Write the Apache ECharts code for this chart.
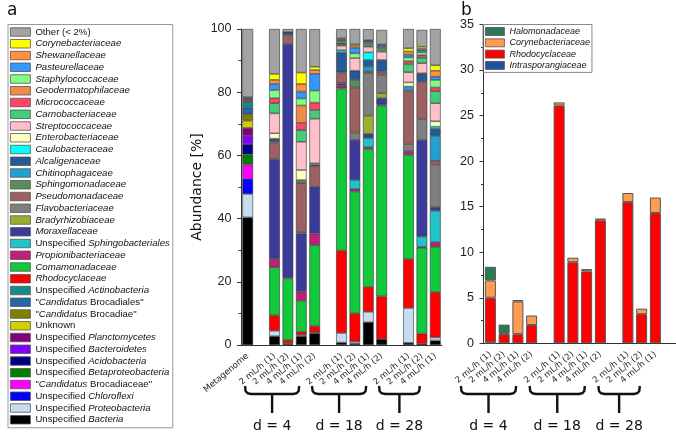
<!DOCTYPE html>
<html>
<head>
<meta charset="utf-8">
<script src="https://cdn.jsdelivr.net/npm/echarts@6/dist/echarts.min.js"></script>
<style>
  html, body { margin: 0; padding: 0; background: #fff; }
  #chart { width: 676px; height: 432px; }
</style>
</head>
<body>
<div id="chart"></div>
<script>
// sample order: Metagenome, d4 (4 reactors), d18 (4), d28 (3)
const dayGroups = [
  { label: "d = 4", samples: ["2 mL/h (1)", "2 mL/h (2)", "4 mL/h (1)", "4 mL/h (2)"] },
  { label: "d = 18", samples: ["2 mL/h (1)", "2 mL/h (2)", "4 mL/h (1)", "4 mL/h (2)"] },
  { label: "d = 28", samples: ["2 mL/h (1)", "2 mL/h (2)", "4 mL/h (1)"] }
]

// panel a, relative abundance [%]
const unspecBacteria = [40.4, 2.8, 0.3, 2.8, 3.7, 0.8, 0.5, 7.2, 1.9, 0.7, 0.4, 1.4]
const unspecProteobacteria = [7.4, 1.7, 0.3, 0.4, 0.3, 3.0, 0.6, 3.3, 0, 11.0, 0, 1.0]
const unspecChloroflexi = [4.8, 0, 0, 0, 0, 0, 0, 0, 0, 0, 0, 0]
const candBrocadiaceae = [4.5, 0, 0, 0, 0, 0, 0, 0, 0, 0, 0, 0]
const unspecBetaproteobacteria = [3.2, 0, 0, 0, 0, 0, 0, 0, 0, 0, 0, 0]
const unspecAcidobacteria = [3.3, 0, 0, 0, 0, 0, 0, 0, 0, 0, 0, 0]
const unspecBacteroidetes = [2.6, 0, 0, 0, 0, 0, 0, 0, 0, 0, 0, 0]
const unspecPlanctomycetes = [2.5, 0, 0, 0, 0, 0, 0, 0, 0, 0, 0, 0]
const unknown = [2.3, 0, 0, 0, 0, 0, 0, 0, 0, 0, 0, 0]
const candBrocadiae = [2.0, 0, 0, 0, 0, 0, 0, 0, 0, 0, 0, 0]
const candBrocadiales = [2.1, 0, 0, 0, 0, 0, 0, 0, 0, 0, 0, 0]
const unspecActinobacteria = [1.9, 0, 0, 0, 0, 0, 0, 0, 0, 0, 0, 0]
const rhodocyclaceae = [0.5, 4.9, 1.0, 1.0, 2.0, 26.1, 8.9, 7.9, 13.5, 15.5, 3.2, 14.3]
const comamonadaceae = [0.4, 15.2, 19.5, 9.8, 25.6, 51.3, 38.6, 43.6, 60.4, 33.0, 27.2, 14.4]
const propionibacteriaceae = [0, 2.6, 0.3, 2.9, 3.7, 0.9, 0.8, 0.6, 0.3, 1.1, 0.3, 1.4]
const unspecSphingobacteriales = [0, 0, 0, 0, 0, 0, 2.8, 2.9, 0, 0, 3.2, 10.0]
const moraxellaceae = [0.5, 31.7, 73.9, 18.4, 14.8, 0.7, 12.7, 1.3, 2.0, 0, 30.6, 1.1]
const bradyrhizobiaceae = [0, 0, 0, 0, 0, 0, 0, 5.8, 1.6, 0, 0, 0]
const flavobacteriaceae = [0, 0, 0, 0.5, 0, 0, 2.3, 13.4, 5.8, 2.3, 6.6, 13.5]
const pseudomonadaceae = [0, 5.2, 2.8, 15.4, 6.5, 3.5, 14.3, 0.6, 1.0, 16.9, 11.8, 1.2]
const sphingomonadaceae = [0, 0, 0, 1.0, 0, 0, 2.4, 0, 0, 0, 0, 0]
const chitinophagaceae = [0, 0.4, 0, 0, 0, 0, 0, 1.5, 0, 1.3, 0, 7.9]
const alcaligenaceae = [0, 0.8, 0.8, 0, 0.5, 6.3, 2.9, 2.1, 3.7, 0, 2.7, 2.2]
const caulobacteraceae = [0, 0, 0, 0, 0, 0.7, 0, 2.4, 0, 0, 0, 0.7]
const enterobacteriaceae = [0, 1.7, 0, 3.2, 0.4, 0, 0, 0, 0, 1.3, 0, 1.7]
const streptococcaceae = [0, 6.3, 0, 8.9, 14.1, 1.4, 4.0, 1.8, 2.6, 3.2, 3.2, 5.7]
const carnobacteriaceae = [0, 3.2, 0, 3.7, 2.8, 0.5, 0, 0.4, 0.6, 2.6, 1.7, 3.8]
const micrococcaceae = [0, 1.6, 0, 2.3, 2.3, 0.3, 0, 0, 0, 0.9, 0.8, 1.2]
const geodermatophilaceae = [0, 0, 0, 5.5, 0, 0, 0, 0, 0, 0, 0, 0]
const staphylococcaceae = [0, 2.6, 0, 2.2, 3.8, 0.5, 1.5, 0.5, 0.5, 1.2, 0.9, 2.4]
const pasteurellaceae = [0, 1.9, 0, 2.2, 5.3, 0.4, 1.7, 0.6, 0.6, 0.9, 0.7, 1.0]
const shewanellaceae = [0, 1.3, 0, 2.4, 1.2, 0.3, 0.7, 0.3, 0.4, 1.0, 0.5, 1.9]
const corynebacteriaceae = [0, 1.9, 0.1, 3.6, 1.05, 0.35, 0.5, 0.25, 0.2, 1.0, 0.6, 1.7]
const other = [21.6, 14.2, 1.0, 13.8, 11.9, 2.9, 4.8, 3.5, 4.6, 6.1, 5.3, 11.5]

// panel b, abundance [%] (no metagenome)
const halomonadaceae = [1.5, 0.95, 0.15, 0, 0, 0, 0, 0, 0, 0, 0]
const intrasporangiaceae = [0.1, 0, 0, 0, 0, 0, 0, 0, 0, 0, 0]

// stacking order, bottom first
const familiesA = [
  ["Unspecified Bacteria", unspecBacteria, "#000000"],
  ["Unspecified Proteobacteria", unspecProteobacteria, "#c6dcf0"],
  ["Unspecified Chloroflexi", unspecChloroflexi, "#0000ff"],
  ['"Candidatus Brocadiaceae"', candBrocadiaceae, "#ff00ff"],
  ["Unspecified Betaproteobacteria", unspecBetaproteobacteria, "#008000"],
  ["Unspecified Acidobacteria", unspecAcidobacteria, "#000080"],
  ["Unspecified Bacteroidetes", unspecBacteroidetes, "#8000ff"],
  ["Unspecified Planctomycetes", unspecPlanctomycetes, "#800080"],
  ["Unknown", unknown, "#d4d000"],
  ['"Candidatus Brocadiae"', candBrocadiae, "#7f7f00"],
  ['"Candidatus Brocadiales"', candBrocadiales, "#2566a8"],
  ["Unspecified Actinobacteria", unspecActinobacteria, "#148c8c"],
  ["Rhodocyclaceae", rhodocyclaceae, "#ff0000"],
  ["Comamonadaceae", comamonadaceae, "#12c93c"],
  ["Propionibacteriaceae", propionibacteriaceae, "#c0207a"],
  ["Unspecified Sphingobacteriales", unspecSphingobacteriales, "#22c4cc"],
  ["Moraxellaceae", moraxellaceae, "#3b3b9b"],
  ["Bradyrhizobiaceae", bradyrhizobiaceae, "#9aae30"],
  ["Flavobacteriaceae", flavobacteriaceae, "#7f7f7f"],
  ["Pseudomonadaceae", pseudomonadaceae, "#9c5f62"],
  ["Sphingomonadaceae", sphingomonadaceae, "#5b8c5b"],
  ["Chitinophagaceae", chitinophagaceae, "#22a0d0"],
  ["Alcaligenaceae", alcaligenaceae, "#245a96"],
  ["Caulobacteraceae", caulobacteraceae, "#00ffff"],
  ["Enterobacteriaceae", enterobacteriaceae, "#ffffc0"],
  ["Streptococcaceae", streptococcaceae, "#ffc0cb"],
  ["Carnobacteriaceae", carnobacteriaceae, "#44cc77"],
  ["Micrococcaceae", micrococcaceae, "#ff4466"],
  ["Geodermatophilaceae", geodermatophilaceae, "#f08c48"],
  ["Staphylococcaceae", staphylococcaceae, "#80ff80"],
  ["Pasteurellaceae", pasteurellaceae, "#3399ff"],
  ["Shewanellaceae", shewanellaceae, "#ff9040"],
  ["Corynebacteriaceae", corynebacteriaceae, "#ffff00"],
  ["Other (< 2%)", other, "#a3a3a3"]
]

// zero width space keeps panel b names apart from panel a legend
const familiesB = [
  ["Intrasporangiaceae", intrasporangiaceae, "#1f4fa0"],
  ["Rhodocyclaceae\u200b", rhodocyclaceae.slice(1), "#ff0000"],
  ["Corynebacteriaceae\u200b", corynebacteriaceae.slice(1), "#ff9c52"],
  ["Halomonadaceae", halomonadaceae, "#2a7a55"]
]

function buildAxis(lead, trailing) {
  const cats = [], slots = [], ranges = []
  if (lead) { slots.push(cats.length); cats.push(lead) }
  dayGroups.forEach((g) => {
    if (cats.length) cats.push("")
    const start = cats.length
    g.samples.forEach((s) => { slots.push(cats.length); cats.push(s) })
    ranges.push([start, cats.length - 1])
  })
  if (trailing) cats.push("")
  return { cats, slots, ranges }
}

const axisA = buildAxis("Metagenome", false)
const axisB = buildAxis(null, true)

const spread = (values, ax) => {
  const out = ax.cats.map(() => "-")
  values.forEach((v, i) => { out[ax.slots[i]] = v ? v : "-" })
  return out
}

const legendLabel = (name) => {
  const n = name.replace("\u200b", "")
  if (n === "Other (< 2%)" || n === "Unknown") return n
  if (n.startsWith("Unspecified ")) return "Unspecified {i|" + n.slice(12) + "}"
  if (n.startsWith('"Candidatus ')) return '"{i|Candidatus} ' + n.slice(12)
  return "{i|" + n + "}"
}

const tickFont = { fontFamily: "Liberation Sans", fontSize: 12.5, lineHeight: 11, color: "#222", showMinLabel: true, showMaxLabel: true, hideOverlap: false }
const catLabel = { rotate: 40, interval: 0, margin: 10, fontFamily: "DejaVu Sans", fontSize: 8.5, color: "#222", hideOverlap: false }
const axisLine = { show: true, onZero: false, lineStyle: { color: "#333", width: 1 } }

const chart = echarts.init(document.getElementById("chart"), null, { renderer: "canvas" })

const option = {
  animation: false,
  title: [
    { text: "a", left: 2, top: -3, textStyle: { fontFamily: "DejaVu Sans", fontSize: 17, fontWeight: "normal", color: "#111" } },
    { text: "b", left: 456, top: -3, textStyle: { fontFamily: "DejaVu Sans", fontSize: 17, fontWeight: "normal", color: "#111" } }
  ],
  legend: [
    {
      data: familiesA.map((f) => f[0]).reverse(),
      orient: "vertical",
      left: 8,
      top: 24.5,
      height: 405,
      icon: "rect",
      itemWidth: 20,
      itemHeight: 8.5,
      itemGap: 1.75,
      padding: [2.5, 3, 3, 2],
      borderColor: "#999",
      borderWidth: 1,
      selectedMode: false,
      itemStyle: { borderColor: "#555", borderWidth: 0.8 },
      formatter: legendLabel,
      textStyle: {
        fontFamily: "Liberation Sans", fontSize: 9.6, lineHeight: 10, color: "#111",
        rich: { i: { fontFamily: "Liberation Sans", fontSize: 9.6, lineHeight: 10, fontStyle: "italic", color: "#111" } }
      }
    },
    {
      data: familiesB.map((f) => f[0]).reverse(),
      orient: "vertical",
      left: 483,
      top: 24.5,
      icon: "rect",
      itemWidth: 19,
      itemHeight: 8,
      itemGap: 1.3,
      padding: [2, 2, 2, 2],
      borderColor: "#888",
      borderWidth: 1,
      selectedMode: false,
      itemStyle: { borderColor: "#555", borderWidth: 0.8 },
      formatter: legendLabel,
      textStyle: {
        fontFamily: "Liberation Sans", fontSize: 9, lineHeight: 10, color: "#111",
        rich: { i: { fontFamily: "Liberation Sans", fontSize: 9, lineHeight: 10, fontStyle: "italic", color: "#111" } }
      }
    }
  ],
  grid: [
    { left: 241, top: 29, width: 201, height: 316 },
    { left: 483.5, top: 24.5, width: 200.2, height: 318.8 }
  ],
  xAxis: [
    { type: "category", gridIndex: 0, data: axisA.cats, axisLine, axisTick: { show: false }, axisLabel: catLabel },
    { type: "category", gridIndex: 1, data: axisB.cats, axisLine, axisTick: { show: false }, axisLabel: catLabel }
  ],
  yAxis: [
    {
      type: "value", gridIndex: 0, min: 0, max: 100, interval: 20,
      name: "Abundance [%]", nameLocation: "middle", nameGap: 37,
      nameTextStyle: { fontFamily: "DejaVu Sans", fontSize: 14, color: "#111" },
      axisLine, axisTick: { show: true, length: 4, lineStyle: { color: "#333" } },
      minorTick: { show: true, splitNumber: 2, length: 2.5, lineStyle: { color: "#333" } },
      splitLine: { show: false },
      axisLabel: { ...tickFont, margin: 9.5 }
    },
    {
      type: "value", gridIndex: 1, min: 0, max: 35, interval: 5,
      axisLine, axisTick: { show: true, length: 4, lineStyle: { color: "#333" } },
      minorTick: { show: true, splitNumber: 2, length: 2.5, lineStyle: { color: "#333" } },
      splitLine: { show: false },
      axisLabel: { ...tickFont, margin: 9.5 }
    }
  ],
  series: [
    ...familiesA.map(([name, values, color]) => ({
      name, type: "bar", stack: "a", xAxisIndex: 0, yAxisIndex: 0, barWidth: "80%",
      data: spread(values, axisA),
      itemStyle: { color, borderColor: "#333", borderWidth: 0.6 }
    })),
    ...familiesB.map(([name, values, color]) => ({
      name, type: "bar", stack: "b", xAxisIndex: 1, yAxisIndex: 1, barWidth: "80%",
      data: spread(values, axisB),
      itemStyle: { color, borderColor: "#555", borderWidth: 1 }
    }))
  ]
}

chart.setOption(option)

// braces under the day groups, placed from the category axes
const braces = []
const braceStyle = { stroke: "#111", lineWidth: 2.4, fill: null }
;[[0, axisA], [1, axisB]].forEach(([xi, ax]) => {
  ax.ranges.forEach((r, gi) => {
    const x1 = chart.convertToPixel({ xAxisIndex: xi }, r[0])
    const x2 = chart.convertToPixel({ xAxisIndex: xi }, r[1])
    const c = (x1 + x2) / 2 - 22.5
    const half = (x2 - x1) / 2 + 7
    const L = c - half, R = c + half, y0 = 394
    braces.push({
      type: "polyline",
      shape: { points: [[L, y0 - 8], [L + 0.6, y0 - 3], [L + 2.5, y0 - 0.8], [L + 6, y0], [R - 6, y0], [R - 2.5, y0 - 0.8], [R - 0.6, y0 - 3], [R, y0 - 8]] },
      style: braceStyle
    })
    braces.push({ type: "line", shape: { x1: c, y1: y0, x2: c, y2: y0 + 19 }, style: braceStyle })
    braces.push({
      type: "text",
      style: {
        text: dayGroups[gi].label, x: c, y: 426, align: "center", verticalAlign: "middle",
        fontFamily: "DejaVu Sans", fontSize: 14, fill: "#111"
      }
    })
  })
})
chart.setOption({ graphic: braces })
</script>
</body>
</html>
